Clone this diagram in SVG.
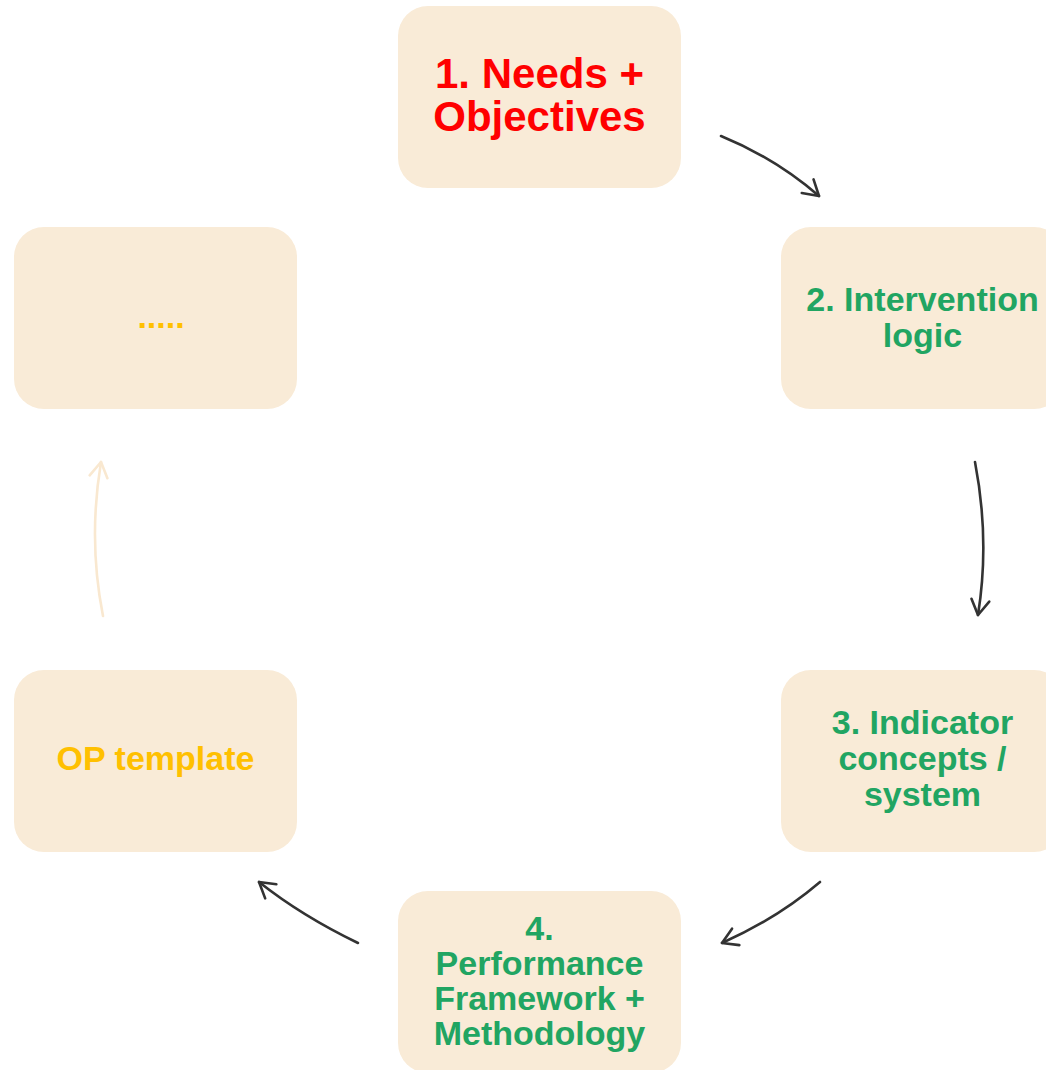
<svg xmlns="http://www.w3.org/2000/svg" width="1046" height="1070" viewBox="0 0 1046 1070">
<style>
.box{fill:#F9EBD7;}
.t{font-family:"Liberation Sans",Arial,sans-serif;font-weight:bold;text-anchor:middle;}
.red{fill:#FF0000;font-size:42px;}
.green{fill:#21A562;font-size:34px;}
.orange{fill:#FFC000;font-size:34px;}
.arr{fill:none;stroke:#333333;stroke-width:2.6;stroke-linecap:round;}
.arr.light{stroke:#F9E8D0;}
</style>
<defs>
<marker id="head" markerUnits="userSpaceOnUse" markerWidth="30" markerHeight="30" viewBox="-20 -15 30 30" refX="0" refY="0" orient="auto" overflow="visible">
<path d="M-15,-9 L0,0 L-15,9" fill="none" stroke="#333333" stroke-width="2.6" stroke-linecap="round" stroke-linejoin="round"/>
</marker>
<marker id="headLight" markerUnits="userSpaceOnUse" markerWidth="30" markerHeight="30" viewBox="-20 -15 30 30" refX="0" refY="0" orient="auto" overflow="visible">
<path d="M-15,-9 L0,0 L-15,9" fill="none" stroke="#F9E8D0" stroke-width="2.6" stroke-linecap="round" stroke-linejoin="round"/>
</marker>
</defs>
<g id="node1">
<rect class="box" x="398" y="6" width="283" height="182" rx="30"/>
<text class="t red" x="539.5" y="88">1. Needs +</text>
<text class="t red" x="539.5" y="131">Objectives</text>
</g>
<g id="node2">
<rect class="box" x="781" y="227" width="283" height="182" rx="30"/>
<text class="t green" x="922.5" y="311">2. Intervention</text>
<text class="t green" x="922.5" y="347">logic</text>
</g>
<g id="node3">
<rect class="box" x="781" y="670" width="283" height="182" rx="30"/>
<text class="t green" x="922.5" y="734">3. Indicator</text>
<text class="t green" x="922.5" y="770">concepts /</text>
<text class="t green" x="922.5" y="806">system</text>
</g>
<g id="node4">
<rect class="box" x="398" y="891" width="283" height="182" rx="30"/>
<text class="t green" x="539.5" y="940">4.</text>
<text class="t green" x="539.5" y="975">Performance</text>
<text class="t green" x="539.5" y="1010">Framework +</text>
<text class="t green" x="539.5" y="1045">Methodology</text>
</g>
<g id="node5">
<rect class="box" x="14" y="670" width="283" height="182" rx="30"/>
<text class="t orange" x="155.5" y="770">OP template</text>
</g>
<g id="node6">
<rect class="box" x="14" y="227" width="283" height="182" rx="30"/>
<text class="t orange" x="161" y="328">.....</text>
</g>
<g id="connectors">
<path class="arr" d="M721,136 Q775,158 819,196" marker-end="url(#head)"/>
<path class="arr" d="M975,462 Q990,540 978,615" marker-end="url(#head)"/>
<path class="arr" d="M820,882 Q778,918 722,943" marker-end="url(#head)"/>
<path class="arr" d="M358,943 Q302,916 259,882" marker-end="url(#head)"/>
<path class="arr light" d="M103,616 Q88,540 101,462" marker-end="url(#headLight)"/>
</g>
</svg>
